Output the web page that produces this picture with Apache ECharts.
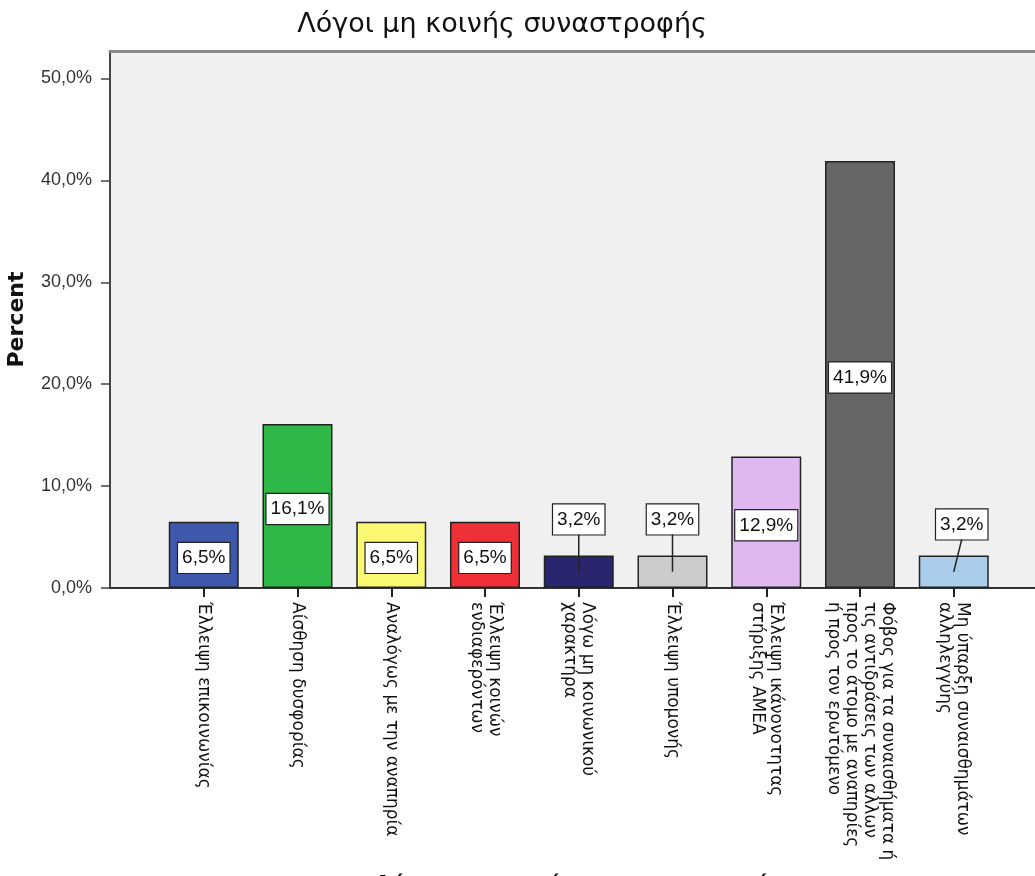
<!DOCTYPE html>
<html>
<head>
<meta charset="utf-8">
<script src="https://cdn.jsdelivr.net/npm/echarts@6/dist/echarts.min.js"></script>
<style>html,body{margin:0;padding:0;background:#fff;}#chart{width:1035px;height:876px;}</style>
</head>
<body>
<div id="chart"></div>
<script>
const chartTitle = 'Λόγοι μη κοινής συναστροφής';
const xAxisTitle = 'Λόγοι μη κοινής συναναστροφής';
const yAxisTitle = 'Percent';
const categories = [
  'Έλλειψη επικοινωνίας',
  'Αίσθηση δυσφορίας',
  'Αναλόγως με την αναπηρία',
  'Έλλειψη κοινών\nενδιαφερόντων',
  'Λόγω μη κοινωνικού\nχαρακτήρα',
  'Έλλειψη υπομονής',
  'Έλλειψη ικάνονοτητας\nστήριξης ΑΜΕΑ',
  'Φόβος για τα συναισθήματα ή\nτις αντιδράσεις των αλλων\nπρος το άτομο με αναπηρίες\nή προς τον ερωτόμενο',
  'Μη ύπαρξη συναισθημάτων\nαλληλεγγύης'
];
const percents = [6.5, 16.1, 6.5, 6.5, 3.2, 3.2, 12.9, 41.9, 3.2];
const barColors = ['#3E58AC', '#2EB848', '#FBF873', '#EF3038', '#29266F', '#CCCCCC', '#DFB8F1', '#666666', '#A9CDEB'];
const yTicks = [0, 10, 20, 30, 40, 50];

const fmt = v => v.toFixed(1).replace('.', ',') + '%';
const SMALL = 5;           // values below this get label above the bar with a leader
const LABEL_DIST = 21;
const LAST = percents.length - 1;
const LAST_SHIFT = [8, 5];  // collision nudge of the last outside label, as in the original

const axisCats = [''].concat(categories, ['']);
const barData = [{ value: null }].concat(percents.map((v, i) => ({
  value: v,
  itemStyle: { color: barColors[i] },
  label: v < SMALL
    ? { position: 'top', distance: LABEL_DIST, offset: i === LAST ? LAST_SHIFT : [0, 0] }
    : { position: 'inside', offset: [0, 3] }
})), [{ value: null }]);
const leaderData = [];
percents.forEach((v, i) => { if (v < SMALL) leaderData.push([i + 1, v, i === LAST ? 1 : 0]); });

const chart = echarts.init(document.getElementById('chart'), null, { renderer: 'canvas' });
chart.setOption({
  animation: false,
  backgroundColor: '#ffffff',
  graphic: [{
    type: 'text', x: 502, y: 25, z: 10,
    style: { text: chartTitle, fill: '#111', font: '27px "DejaVu Sans"', textAlign: 'center', textVerticalAlign: 'middle' }
  }],
  grid: { left: 110, top: 51, right: -12.5, bottom: 288, outerBoundsMode: 'none', containLabel: false, show: true, backgroundColor: '#F0F0F0', borderWidth: 0 },
  xAxis: [{
    type: 'category', data: axisCats, boundaryGap: false, position: 'bottom',
    axisLine: { lineStyle: { color: '#333', width: 2 } },
    axisTick: { show: true, length: 9, lineStyle: { color: '#222', width: 2 }, interval: (i, v) => v !== '' },
    axisLabel: { rotate: -90, margin: 14, interval: 0, color: '#111', fontFamily: 'DejaVu Sans', fontSize: 17, lineHeight: 18 },
    name: xAxisTitle, nameLocation: 'middle', nameGap: 286,
    nameTextStyle: { fontFamily: 'DejaVu Sans', fontWeight: 'bold', fontSize: 22, color: '#111' }
  }, {
    type: 'category', data: axisCats, boundaryGap: false, position: 'top',
    axisLine: { lineStyle: { color: '#888', width: 3 } }, axisTick: { show: false }, axisLabel: { show: false }
  }],
  yAxis: {
    type: 'value', min: 0, max: 52.7, interval: 10,
    axisLine: { show: true, lineStyle: { color: '#444', width: 2 } },
    axisTick: { show: true, length: 9, lineStyle: { color: '#444', width: 1.5 }, customValues: yTicks },
    axisLabel: { color: '#333', fontFamily: 'Liberation Sans', fontSize: 18, margin: 18, formatter: fmt, customValues: yTicks },
    splitLine: { show: false },
    name: yAxisTitle, nameLocation: 'middle', nameGap: 82,
    nameTextStyle: { fontFamily: 'DejaVu Sans', fontWeight: 'bold', fontSize: 22, color: '#111' }
  },
  series: [{
    type: 'bar', data: barData, barWidth: 70, xAxisIndex: 0,
    itemStyle: { borderColor: '#222', borderWidth: 1.5 },
    label: {
      show: true, formatter: p => fmt(p.value), fontFamily: 'Liberation Sans', fontSize: 19, color: '#111',
      backgroundColor: '#fff', borderColor: '#222', borderWidth: 1.2, padding: [6, 4, 5, 4]
    },
    z: 2
  }, {
    type: 'custom', xAxisIndex: 0, data: leaderData, z: 3, silent: true,
    renderItem: (params, api) => {
      const c = api.value(0), v = api.value(1), shifted = api.value(2) === 1;
      const p0 = api.coord([c, v / 2]);
      const p1 = api.coord([c, v]);
      const dx = shifted ? LAST_SHIFT[0] : 0, dy = shifted ? LAST_SHIFT[1] : 0;
      return { type: 'line', shape: { x1: p0[0], y1: p0[1], x2: p1[0] + dx, y2: p1[1] - LABEL_DIST + dy }, style: { stroke: '#222', lineWidth: 1.5 } };
    }
  }]
});
</script>
</body>
</html>
